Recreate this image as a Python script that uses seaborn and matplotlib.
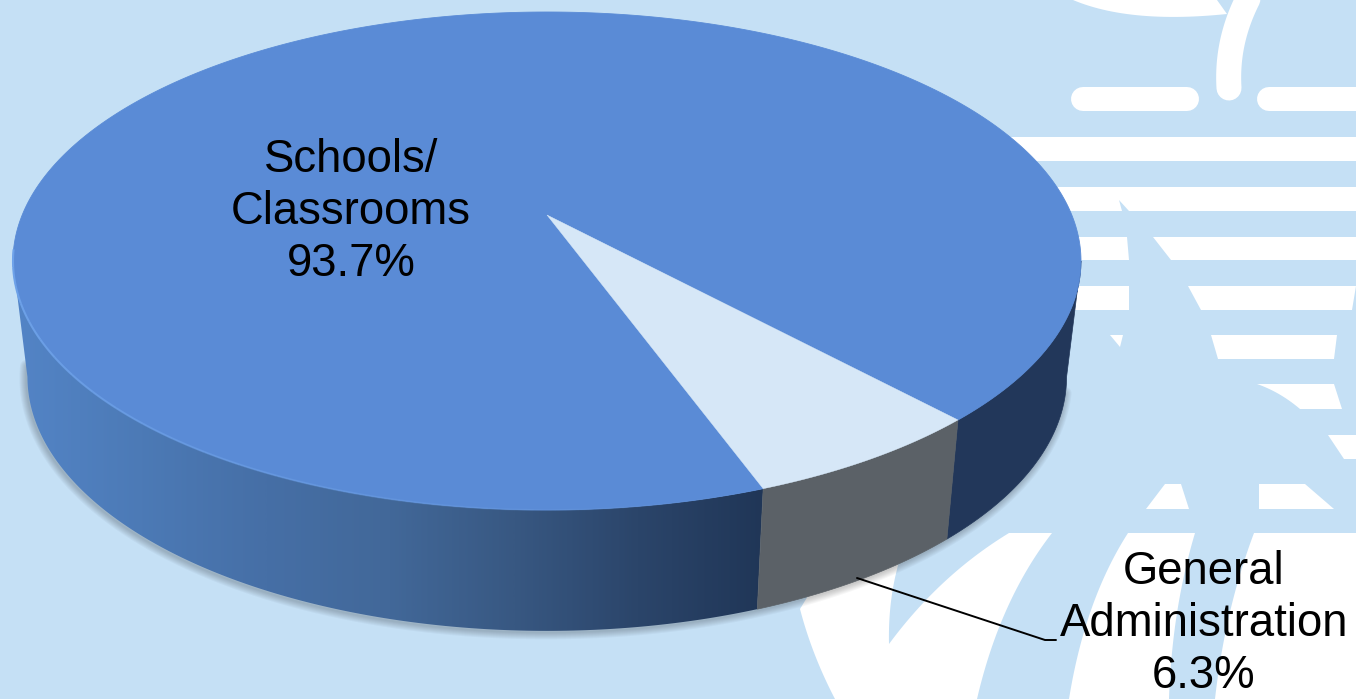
import numpy as np
import matplotlib
matplotlib.use("Agg")
import matplotlib.pyplot as plt
from matplotlib.patches import Polygon
import seaborn as sns

# Budget shares
categories = ["Schools/\nClassrooms", "General\nAdministration"]
shares = [93.7, 6.3]
share_labels = ["93.7%", "6.3%"]

# Colours
BG = "#c5e0f5"
TOP_MAIN = "#5a8bd6"
TOP_SLICE = "#d6e7f7"
WALL_SLICE = "#5b6167"
WALL_DARK = "#22375a"
WALL_STOPS = ["#5384c6", "#4c7ab6", "#466fa6", "#426899", "#385882", "#2b456a", "#203657"]

W, H = 1356, 699
sns.set_theme(style="white", rc={"figure.facecolor": BG, "axes.facecolor": BG})
plt.rcParams["font.family"] = ["Liberation Sans", "DejaVu Sans"]

fig = plt.figure(figsize=(W / 100, H / 100), dpi=100)
ax = fig.add_axes([0, 0, 1, 1])
ax.set_axis_off()


def px(width):
    return width * 72 / 100


def quad(p0, c, p1, n=30):
    t = np.linspace(0, 1, n)[:, None]
    p0, c, p1 = map(np.asarray, (p0, c, p1))
    return (1 - t) ** 2 * p0 + 2 * t * (1 - t) * c + t ** 2 * p1


def emblem(*parts):
    pts = np.vstack([np.atleast_2d(p) for p in parts])
    ax.add_patch(Polygon(pts, closed=True, fc="white", ec="none", zorder=1))


# Pale emblem behind the pie: horizontal bars
for y0, y1, x0, x1 in [(137, 161, 1000, W), (187, 211, 1040, W)]:
    emblem([(x0, y0), (x1, y0), (x1, y1), (x0, y1)])
emblem([(1060, 237), (1127, 237), (1129, 260), (1060, 260)])
emblem([(1153, 237), (W, 237), (W, 260), (1171, 260)])
emblem([(1060, 286), (1129, 286), (1129, 310), (1060, 310)])
emblem([(1188, 286), (W, 286), (1352, 310), (1201, 310)])
emblem([(1110, 335), (1123, 335), (1120, 347)])
emblem([(1211, 335), (1337, 335), (1334, 359), (1218, 359)])
emblem(quad((1257, 384), (1280, 392), (1300, 409)), [(1342, 409), (1334, 384)])
emblem([(1328, 435), (W, 435), (W, 459), (1344, 459)])
emblem([(1165, 484), (1181, 484), (1189, 509), (1146, 509)])
emblem([(1259, 484), (1305, 484), (1334, 509), (1259, 509)])
ax.add_patch(Polygon([(1119, 200), (1122, 211), (1129, 211)], fc=BG, ec="none", zorder=1.1))

# Emblem: rounded pills and the curved stroke
for xa, xb in [(1083, 1187), (1269, 1400)]:
    ax.plot([xa, xb], [99, 99], color="white", lw=px(24), solid_capstyle="round", zorder=1)
stroke = quad((1229, 88), (1226, 40), (1250, -5))
ax.plot(stroke[:, 0], stroke[:, 1], color="white", lw=px(25), solid_capstyle="round", zorder=1)
emblem(quad((1073, 0), (1130, 24), (1227, 14)), [(1217, 0)])

# Emblem: sweeping shapes along the bottom
emblem(
    [(1009, 533), (1052, 533)],
    quad((1052, 533), (1000, 600), (977, 699)),
    quad((835, 699), (812, 655), (800, 609)),
    [(830, 560), (899, 555)],
    quad((899, 562), (888, 600), (889, 644)),
    quad((889, 644), (940, 575), (1009, 533)),
)
emblem(quad((1128, 533), (1085, 600), (1069, 699)), quad((1169, 699), (1172, 610), (1195, 533)))
emblem(quad((1254, 533), (1225, 610), (1215, 699)), [(W, 699), (W, 533)])

# Perspective projection of the disc onto the page
cx, cy = 547.0, 215.0
k, a, b = 0.1847, 524.8, 240.5
wall_sx, wall_sy, wall_dy = 0.973, 1.02, 115.0


def rim(theta_deg):
    th = np.radians(np.asarray(theta_deg, dtype=float))
    x, y = np.cos(th), np.sin(th)
    d = 1 + k * y
    return a * x / d, -b * y / d


def top_edge(theta_deg):
    sx, sy = rim(theta_deg)
    return np.column_stack([cx + sx, cy + sy])


def low_edge(theta_deg):
    sx, sy = rim(theta_deg)
    return np.column_stack([cx + wall_sx * sx, cy + wall_sy * sy + wall_dy])


# Slice angles come from the shares
start = -70.1
slice_end = start + shares[1] * 3.6
horizon = np.degrees(np.arcsin(k))
right_limit, left_limit = -horizon, -180 + horizon

# Soft drop shadow below the wall
shadow = low_edge(np.linspace(-14, -172, 240))
for lw in np.arange(14, 0, -2):
    ax.plot(shadow[:, 0] - 1, shadow[:, 1] + 1.5, color="black", alpha=0.03, lw=px(lw),
            solid_capstyle="round", zorder=2)


def wall(t0, t1):
    th = np.linspace(t0, t1, 160)
    return np.vstack([top_edge(th), low_edge(th[::-1])])


# Walls of the disc
left_wall = Polygon(wall(start, left_limit), closed=True, fc="none", ec="none", zorder=3)
ax.add_patch(left_wall)
ramp = np.array(sns.blend_palette(WALL_STOPS, n_colors=400))[None, :, :]
img = ax.imshow(ramp, extent=(15, 765, 700, 250), aspect="auto", zorder=3, interpolation="bilinear")
img.set_clip_path(left_wall)
ax.add_patch(Polygon(wall(slice_end, right_limit), closed=True, fc=WALL_DARK, ec=WALL_DARK, lw=0.5, zorder=3))
ax.add_patch(Polygon(wall(start, slice_end), closed=True, fc=WALL_SLICE, ec=WALL_SLICE, lw=0.5, zorder=3.1))

# Top faces
centre = [(cx, cy)]
main_arc = top_edge(np.linspace(slice_end, start + 360, 500))
ax.fill(*np.vstack([centre, main_arc]).T, color=TOP_MAIN, lw=0.6, zorder=4)
slice_arc = top_edge(np.linspace(start, slice_end, 60))
ax.fill(*np.vstack([centre, slice_arc]).T, color=TOP_SLICE, lw=0.3, zorder=4.1)

# Bright rim along the lower left edge, fading towards the front
glow_angles = np.linspace(-172, -75, 25)
for i in range(len(glow_angles) - 1):
    piece = top_edge(np.linspace(glow_angles[i], glow_angles[i + 1], 12))
    ax.plot(piece[:, 0], piece[:, 1], color="#6fa3ea", lw=1.5,
            alpha=1 - i / (len(glow_angles) - 1), solid_capstyle="butt", zorder=4.2)

# Labels
ax.text(351, 212, f"{categories[0]}\n{share_labels[0]}", ha="center", va="center", ma="center",
        fontsize=32.8, linespacing=1.24, color="black", zorder=6)
ax.text(1204, 624, f"{categories[1]}\n{share_labels[1]}", ha="center", va="center", ma="center",
        fontsize=32.8, linespacing=1.24, color="black", zorder=6)

# Leader from the wall to its label
leader_x = [857, 1045, 1056]
leader_y = [578, 640, 640]
sns.lineplot(x=leader_x, y=leader_y, sort=False, estimator=None, color="black", lw=1.4, ax=ax, zorder=5)

ax.set_xlim(0, W)
ax.set_ylim(H, 0)
ax.set_axis_off()
fig.savefig("out.png", dpi=100, facecolor=BG)
